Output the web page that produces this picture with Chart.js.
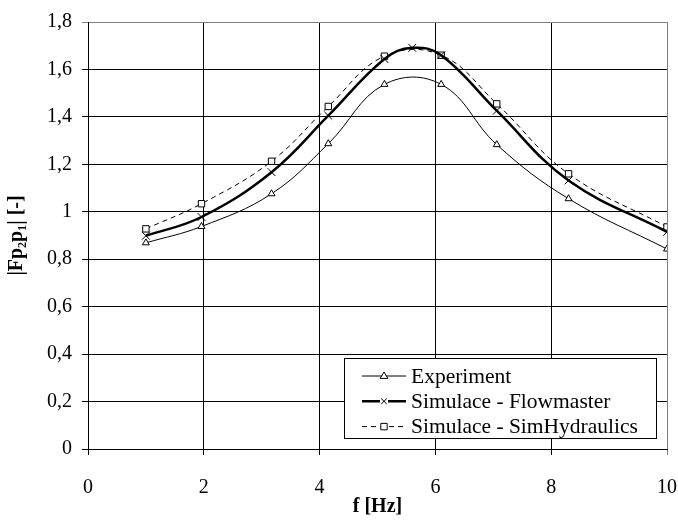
<!DOCTYPE html>
<html lang="cs">
<head>
    <meta charset="UTF-8">
    <title>|Fp2p1| vs f</title>
    <script src="https://cdn.jsdelivr.net/npm/chart.js"></script>
    <style>
        body { margin: 0; padding: 0; background: #fff; }
        #wrap { width: 678px; height: 524px; }
    </style>
</head>
<body>
    <div id="wrap"><canvas id="chart" width="678" height="524"></canvas></div>

    <script>
        // values
        const expX  = [1, 1.96, 3.17, 4.15, 5.12, 6.1, 7.06, 8.3, 10];
        const expY  = [0.869, 0.938, 1.076, 1.287, 1.537, 1.537, 1.283, 1.055, 0.843];
        const flowX = [1, 1.96, 3.17, 4.15, 5.12, 5.6, 6.1, 7.06, 8.3, 10];
        const flowY = [0.899, 0.978, 1.167, 1.405, 1.644, 1.691, 1.66, 1.426, 1.132, 0.915];
        const simX  = [1, 1.96, 3.17, 4.15, 5.12, 6.1, 7.06, 8.3, 10];
        const simY  = [0.928, 1.034, 1.213, 1.444, 1.656, 1.66, 1.455, 1.16, 0.936];

        const xTickLabels = ["0", "2", "4", "6", "8", "10"];
        const yTickLabels = ["0", "0,2", "0,4", "0,6", "0,8", "1", "1,2", "1,4", "1,6", "1,8"];
        const seriesNames = ["Experiment", "Simulace - Flowmaster", "Simulace - SimHydraulics"];

        const FONT = '"Liberation Serif", "Times New Roman", serif';

        function pts(xs, ys) {
            return xs.map((x, i) => ({ x: x, y: ys[i] }));
        }

        // small marker painter for the legend
        function drawMarker(ctx, style, x, y, r) {
            ctx.save();
            ctx.lineWidth = 1;
            ctx.strokeStyle = "#000";
            ctx.fillStyle = "#fff";
            ctx.setLineDash([]);
            ctx.beginPath();
            if (style === "triangle") {
                ctx.moveTo(x, y - r);
                ctx.lineTo(x + r * 0.95, y + r * 0.6);
                ctx.lineTo(x - r * 0.95, y + r * 0.6);
                ctx.closePath();
                ctx.fill(); ctx.stroke();
            } else if (style === "rect") {
                ctx.rect(x - r * 0.8, y - r * 0.8, r * 1.6, r * 1.6);
                ctx.fill(); ctx.stroke();
            } else {
                ctx.fillRect(x - r, y - r, 2 * r, 2 * r);
                ctx.beginPath();
                ctx.moveTo(x - r * 0.7, y - r * 0.7); ctx.lineTo(x + r * 0.7, y + r * 0.7);
                ctx.moveTo(x - r * 0.7, y + r * 0.7); ctx.lineTo(x + r * 0.7, y - r * 0.7);
                ctx.stroke();
            }
            ctx.restore();
        }

        // legend in a framed box inside the plot area
        const boxLegend = {
            id: "boxLegend",
            afterDraw(chart) {
                const ctx = chart.ctx;
                ctx.save();
                ctx.fillStyle = "#fff";
                ctx.fillRect(344.5, 358.5, 312, 80);
                ctx.strokeStyle = "#000";
                ctx.lineWidth = 1;
                ctx.strokeRect(344.5, 358.5, 312, 80);
                chart.data.datasets.forEach((ds, i) => {
                    const y = 376 + i * 25.3;
                    ctx.strokeStyle = "#000";
                    ctx.lineWidth = ds.borderWidth;
                    ctx.setLineDash(ds.borderDash || []);
                    ctx.beginPath();
                    ctx.moveTo(362, y);
                    ctx.lineTo(406, y);
                    ctx.stroke();
                    drawMarker(ctx, ds.pointStyle, 384, y, 4);
                    ctx.fillStyle = "#000";
                    ctx.font = "21.5px " + FONT;
                    ctx.textBaseline = "middle";
                    ctx.textAlign = "left";
                    ctx.fillText(ds.label, 411, y + 1);
                });
                ctx.restore();
            }
        };

        Chart.defaults.font.family = FONT;
        Chart.defaults.color = "#000";

        new Chart(document.getElementById("chart").getContext("2d"), {
            type: "scatter",
            data: {
                datasets: [
                    {
                        label: seriesNames[0], data: pts(expX, expY), showLine: true,
                        borderColor: "#000", borderWidth: 1, tension: 0.4,
                        pointStyle: "triangle", pointRadius: 4,
                        pointBackgroundColor: "#fff", pointBorderColor: "#000", pointBorderWidth: 1
                    },
                    {
                        label: seriesNames[1], data: pts(flowX, flowY), showLine: true,
                        borderColor: "#000", borderWidth: 2.5, tension: 0.4,
                        pointStyle: "crossRot", pointRadius: 5.5,
                        pointBorderColor: "#000", pointBorderWidth: 1
                    },
                    {
                        label: seriesNames[2], data: pts(simX, simY), showLine: true,
                        borderColor: "#000", borderWidth: 1, borderDash: [5, 4], tension: 0.4,
                        pointStyle: "rect", pointRadius: 4.5,
                        pointBackgroundColor: "#fff", pointBorderColor: "#000", pointBorderWidth: 1
                    }
                ]
            },
            options: {
                responsive: false,
                animation: false,
                layout: { padding: { left: 0, top: 20, right: 11, bottom: 0 } },
                plugins: { legend: { display: false }, tooltip: { enabled: false } },
                scales: {
                    x: {
                        type: "linear", min: 0, max: 10,
                        afterFit: s => { s.height = 75; s.paddingLeft = 0; s.paddingRight = 0; },
                        ticks: {
                            stepSize: 2, padding: 21, maxRotation: 0,
                            font: { size: 20 },
                            callback: (v) => xTickLabels[Math.round(v / 2)]
                        },
                        grid: {
                            color: c => (c.tick && c.tick.value === 10 ? "#808080" : "#000"),
                            lineWidth: 1, tickLength: 6
                        },
                        border: { color: "#000", width: 1 },
                        title: {
                            display: true, text: "f [Hz]",
                            font: { size: 20, weight: "bold" },
                            padding: { top: 0, bottom: 5 }
                        }
                    },
                    y: {
                        min: 0, max: 1.8,
                        afterFit: s => { s.width = 88; },
                        ticks: {
                            stepSize: 0.2, padding: 10,
                            font: { size: 20 },
                            callback: (v) => yTickLabels[Math.round(v * 5)]
                        },
                        grid: {
                            color: c => (c.tick && Math.abs(c.tick.value - 1.8) < 1e-6 ? "#808080" : "#000"),
                            lineWidth: 1, tickLength: 6
                        },
                        border: { color: "#000", width: 1 },
                        title: {
                            display: true, text: "|Fp₂p₁| [-]",
                            font: { size: 20, weight: "bold" },
                            padding: { top: 5, bottom: 0 }
                        }
                    }
                }
            },
            plugins: [boxLegend]
        });
    </script>
</body>
</html>
